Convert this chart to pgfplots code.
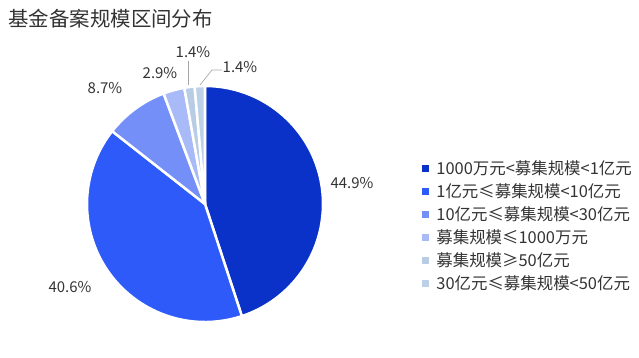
\documentclass[border=0pt]{standalone}
\usepackage{pgfplots}
\pgfplotsset{compat=1.18}
\usepackage{pgfplotstable}
\usepackage{fontspec}
\setmainfont{Noto Sans CJK SC}
\definecolor{pie0}{HTML}{0A32C8}
\definecolor{pie1}{HTML}{2D5AF8}
\definecolor{pie2}{HTML}{7490F8}
\definecolor{pie3}{HTML}{A8BAF8}
\definecolor{pie4}{HTML}{B8CCE4}
\definecolor{pie5}{HTML}{BCD0E8}
\definecolor{txt}{HTML}{333333}
\pgfplotstableread{
val lx ly
44.9 352 183
40.6 70 287
8.7 105 88
2.9 160 73
1.4 193 52
1.4 240 67
}\piedata
\begin{document}
\begin{tikzpicture}
\path (0,0) rectangle (639bp,358bp);
\begin{axis}[
  x=1bp, y=1bp, xmin=0, xmax=639, ymin=0, ymax=358,
  at={(0,0)}, anchor=origin, hide axis, clip=false,
  legend style={at={(axis cs:419,132)}, anchor=west, draw=none, fill=none,
    font=\fontsize{16.5}{18}\selectfont\color{txt}, row sep=3.7bp,
    legend cell align=left},
  legend image code/.code={\path[draw=none,fill=none] (-3bp,-3bp) rectangle (9bp,3bp);\fill[#1] (-3bp,-3bp) rectangle (3bp,3bp);},
]
\addlegendimage{pie0}\addlegendentry{1000万元<募集规模<1亿元}
\addlegendimage{pie1}\addlegendentry{1亿元≤募集规模<10亿元}
\addlegendimage{pie2}\addlegendentry{10亿元≤募集规模<30亿元}
\addlegendimage{pie3}\addlegendentry{募集规模≤1000万元}
\addlegendimage{pie4}\addlegendentry{募集规模≥50亿元}
\addlegendimage{pie5}\addlegendentry{30亿元≤募集规模<50亿元}
\pgfplotsextra{
  \gdef\cumang{90}
  \foreach \i in {0,...,5}{
    \pgfplotstablegetelem{\i}{val}\of\piedata \let\v\pgfplotsretval
    \pgfplotstablegetelem{\i}{lx}\of\piedata \let\lx\pgfplotsretval
    \pgfplotstablegetelem{\i}{ly}\of\piedata \let\ly\pgfplotsretval
    \pgfmathsetmacro\sweep{\v/99.9*360}
    \pgfmathsetmacro\endang{\cumang-\sweep}
    \fill[pie\i, draw=white, line width=2.5bp, line join=round]
      (axis cs:205,154) -- ++(\cumang:118bp)
      arc[start angle=\cumang, end angle=\endang, radius=118bp] -- cycle;
    \node[font=\fontsize{15}{17}\selectfont, text=txt] at (axis cs:\lx,{358-\ly}) {\v\%};
    \xdef\cumang{\endang}
  }
  \draw[gray!70, line width=0.7bp] (axis cs:188,{358-85}) -- (axis cs:188,{358-61});
  \draw[gray!70, line width=0.7bp] (axis cs:200,{358-85}) -- (axis cs:212,{358-70}) -- (axis cs:222,{358-70});
  \node[anchor=west, font=\fontsize{20.5}{24}\selectfont, text=txt] at (axis cs:5,339) {基金备案规模区间分布};
}
\end{axis}
\end{tikzpicture}
\end{document}
